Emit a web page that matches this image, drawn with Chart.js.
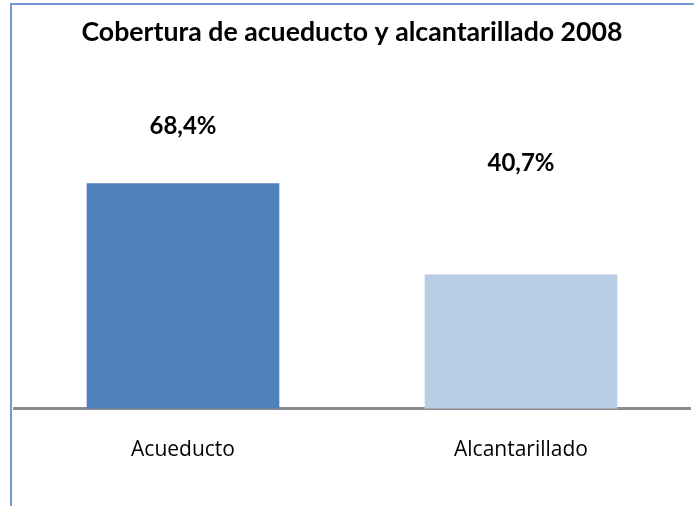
<!DOCTYPE html>
<html>
<head>
<meta charset="utf-8">
<script src="https://cdn.jsdelivr.net/npm/chart.js@4"></script>
<style>
  html, body { margin: 0; padding: 0; background: #fff; }
  #wrap { position: relative; width: 694px; height: 506px; overflow: hidden; }
  #frame {
    position: absolute; left: 10px; top: 3px; width: 700px; height: 520px;
    border-left: 2px solid #6f98d4; border-top: 2px solid #6f98d4;
  }
  canvas { position: absolute; left: 0; top: 0; }
</style>
</head>
<body>
<div id="wrap">
  <div id="frame"></div>
  <canvas id="chart" width="694" height="506"></canvas>
</div>
<script>
//========================
// Data
//========================
const chartTitle = 'Cobertura de acueducto y alcantarillado 2008';
const categories = ['Acueducto', 'Alcantarillado'];
const coverage = [68.4, 40.7];
const barColors = ['#4f81bd', '#b9cde5'];

// label distance above each bar top (px), as placed in the original
const labelLift = [57, 111];

//========================
// Title + value labels
//========================
const extraText = {
  id: 'extraText',
  afterDatasetsDraw(chart) {
    const ctx = chart.ctx;
    ctx.save();
    ctx.fillStyle = '#000';
    ctx.textAlign = 'center';
    ctx.textBaseline = 'middle';
    ctx.font = 'bold 26.7px Lato';
    ctx.fillText(chartTitle, 352, 32);

    ctx.font = 'bold 24px Lato';
    chart.getDatasetMeta(0).data.forEach((bar, i) => {
      const txt = coverage[i].toFixed(1).replace('.', ',') + '%';
      ctx.fillText(txt, bar.x, bar.y - labelLift[i]);
    });
    ctx.restore();
  }
};

new Chart(document.getElementById('chart'), {
  type: 'bar',
  data: {
    labels: categories,
    datasets: [{
      data: coverage,
      backgroundColor: barColors,
      borderWidth: 0,
      categoryPercentage: 1,
      barPercentage: 0.57
    }]
  },
  options: {
    responsive: false,
    animation: false,
    layout: { padding: { left: 14, right: 4, top: 13, bottom: 14 } },
    plugins: {
      legend: { display: false },
      tooltip: { enabled: false }
    },
    scales: {
      x: {
        grid: { display: false, drawTicks: false },
        border: { display: true, color: '#8c8c8c', width: 3 },
        ticks: {
          color: '#000',
          padding: 29,
          font: { family: 'Open Sans', size: 21 }
        }
      },
      y: {
        display: false,
        min: 0,
        max: 120
      }
    }
  },
  plugins: [extraText]
});
</script>
</body>
</html>
